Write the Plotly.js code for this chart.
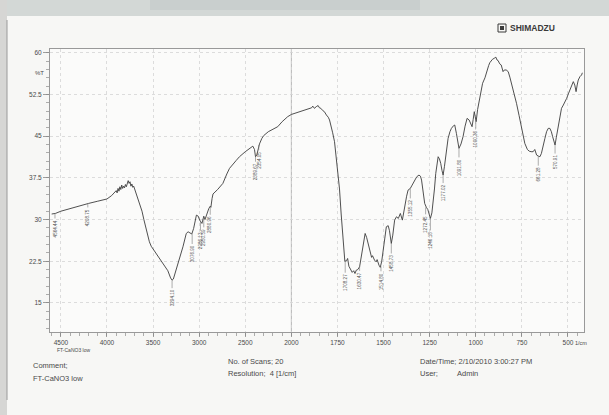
<!DOCTYPE html>
<html>
<head>
<meta charset="utf-8">
<script src="https://cdn.plot.ly/plotly-3.0.1.min.js"></script>
<style>
html,body{margin:0;padding:0;background:#f7f7f5;}
#chart{width:609px;height:415px;}
</style>
</head>
<body>
<div id="chart"></div>
<script>
// ---- Data ----
const wavenumber = [4600,4560,4500,4400,4300,4200,4100,4000,3950,3920,3900,3890,3880,3870,3860,3850,3840,3830,3820,3810,3800,3790,3780,3770,3760,3750,3740,3730,3720,3710,3700,3690,3670,3650,3620,3600,3570,3540,3520,3480,3430,3380,3340,3310,3294,3280,3250,3210,3176,3140,3120,3100,3080,3060,3030,3010,2995,2970,2950,2937,2920,2895,2880,2873,2860,2850,2800,2743,2700,2671,2600,2563,2500,2450,2418,2400,2389,2375,2360,2346,2320,2300,2250,2200,2148,2100,2040,2000,1974,1950,1920,1900,1890,1884,1875,1865,1855,1848,1840,1830,1821,1810,1800,1793,1785,1776,1766,1757,1748,1739,1730,1724,1715,1710,1701,1695,1688,1680,1670,1662,1655,1648,1640,1630,1620,1612,1605,1600,1592,1585,1578,1572,1565,1560,1549,1540,1535,1525,1518,1510,1504,1495,1485,1475,1468,1458,1450,1440,1430,1420,1409,1398,1390,1385,1375,1367,1355,1345,1331,1320,1308,1300,1294,1285,1277,1268,1260,1253,1246,1238,1231,1224,1217,1210,1204,1197,1190,1183,1177,1170,1163,1156,1150,1140,1132,1120,1114,1105,1098,1091,1080,1069,1058,1047,1036,1028,1020,1014,1008,1003,998,990,984,975,963,950,942,930,924,910,900,891,885,879,870,862,852,845,835,824,815,806,790,779,765,752,743,734,720,710,700,689,680,675,670,660,652,644,634,625,616,607,598,590,583,576,570,563,557,550,543,535,525,515,507,498,489,480,471,463,456,450,444,435,426,422];
const transmittance = [31.0,31.1,31.5,32.0,32.5,32.9,33.3,33.7,34.3,34.8,35.2,34.8,35.6,35.1,35.9,35.4,36.2,35.6,36.0,35.7,36.3,35.9,36.6,37.0,36.5,36.8,36.0,36.4,35.8,36.0,35.5,35.0,34.0,33.2,31.5,30.0,27.8,26.0,25.2,24.2,23.0,21.8,20.8,19.5,19.1,19.3,20.9,23.0,25.1,27.5,27.8,27.6,27.4,28.4,30.8,30.6,29.9,29.3,30.6,30.0,31.0,32.0,32.4,32.2,33.8,34.6,35.4,36.5,38.2,39.2,40.6,41.3,42.2,42.8,43.2,42.6,41.3,41.6,42.5,43.6,44.6,45.1,45.8,46.3,46.7,47.6,48.5,48.9,49.2,49.4,49.8,50.0,50.1,50.4,50.0,50.3,50.5,50.1,50.0,49.6,49.4,48.8,48.4,47.9,47.0,45.6,44.0,41.5,39.0,35.5,31.0,28.1,24.0,22.5,22.6,23.0,21.6,21.0,20.5,20.8,20.3,20.9,21.0,21.5,23.4,25.1,26.8,27.5,26.8,25.7,24.6,23.9,23.2,23.5,22.7,22.4,22.8,21.8,21.4,22.5,23.9,26.3,28.7,28.9,28.0,25.7,27.2,29.9,30.5,30.2,31.1,29.9,31.5,32.9,34.2,35.3,35.6,36.2,37.1,37.7,38.0,37.8,37.1,35.0,32.9,32.2,31.8,31.0,30.2,31.2,32.9,35.5,38.3,40.5,41.3,40.9,40.1,38.8,38.0,39.5,41.3,43.2,44.6,45.8,46.4,46.9,47.0,45.5,43.8,42.8,43.6,44.9,46.8,48.2,47.9,47.3,46.7,48.0,49.4,48.5,47.6,49.8,50.9,52.6,54.5,55.5,56.6,57.7,58.2,58.8,59.0,59.2,58.7,58.6,58.0,57.8,56.6,56.9,56.9,56.6,55.6,54.5,52.6,50.9,48.7,46.7,45.0,43.7,42.6,42.3,42.2,42.2,42.6,42.0,41.6,41.4,41.3,41.9,43.1,44.6,45.8,46.4,46.4,45.8,44.9,43.9,43.4,44.8,46.1,47.6,49.1,50.0,50.6,51.2,51.8,52.6,53.3,54.0,54.8,54.2,53.0,54.2,55.1,55.7,56.0,56.4];

const peakWn    = [4564,4208,3294,3076,2986,2950,2880,2389,2354,1708,1630,1514,1458,1355,1272,1246,1177,1091,1000,661,570];
const peakT     = [31.1,32.9,19.1,27.4,29.8,30.4,32.3,41.3,43.4,22.6,21.5,21.6,25.7,35.6,32.2,30.2,38.0,42.8,47.6,41.4,43.4];
const peakLabel = ["4564.44","4208.75","3294.10","3076.90","2986.13","2950.59","2880.96","2389.67","2354.05","1708.27","1630.47","1514.80","1458.73","1355.12","1272.45","1246.18","1177.02","1091.80","1000.36","661.28","570.91"];
const peakOffset = [15,14,18,20,20,20,18,15,15,22,14,15,20,20,17,22,18,19,17,18,17];

const xTickWn = [4500,4000,3500,3000,2500,2000,1750,1500,1250,1000,750,500];
const xTickText = ["4500","4000","3500","3000","2500","2000","1750","1500","1250","1000","750","500"];
const yTickVals = [15,22.5,30,37.5,45,52.5,60];
const yTickText = ["15","22.5","30","37.5","45","52.5","60"];

// Shimadzu chart: scale above 2000 cm-1 is compressed by a factor of 2
function u(w){ return w <= 2000 ? w : 2000 + (w - 2000) / 2; }

// plot area in pixels (for paper-referenced text)
const L = 50, R = 584, T = 49, B = 332;
function px(x){ return (x - L) / (R - L); }
function py(y){ return (B - y) / (B - T); }

const ink = '#4a4a4a';
const fontFam = '"Liberation Sans", Arial, sans-serif';

const trace = {
  x: wavenumber.map(u), y: transmittance, type: 'scatter', mode: 'lines',
  line: {color: '#3c3c3c', width: 0.9}, hoverinfo: 'skip'
};

const annotations = [];
for (let i = 0; i < peakWn.length; i++) {
  annotations.push({
    x: u(peakWn[i]), y: peakT[i], xref: 'x', yref: 'y',
    text: peakLabel[i], textangle: -90, showarrow: true, arrowhead: 0,
    arrowwidth: 0.6, arrowcolor: '#777', ax: 0, ay: peakOffset[i],
    font: {family: fontFam, size: 4.6, color: '#555'}
  });
}
function txt(x, y, s, size, opts) {
  annotations.push(Object.assign({
    x: px(x), y: py(y), xref: 'paper', yref: 'paper', text: s, showarrow: false,
    xanchor: 'left', yanchor: 'middle',
    font: {family: fontFam, size: size, color: ink}
  }, opts || {}));
}
txt(33, 73, '%T', 6);
txt(573, 343, '1/cm', 5.5);
txt(55, 350, 'FT-CaNO3 low', 5);
txt(31, 365, 'Comment;', 7.5);
txt(31, 378, 'FT-CaNO3 low', 7.5);
txt(226, 361, 'No. of Scans; 20', 7.5);
txt(226, 373, 'Resolution;  4 [1/cm]', 7.5);
txt(418, 361, 'Date/Time; 2/10/2010 3:00:27 PM', 7.5);
txt(418, 373, 'User;', 7.5);
txt(455, 373, 'Admin', 7.5);
txt(508, 28, '<b>SHIMADZU</b>', 8.5, {font: {family: fontFam, size: 8.5, color: '#3a3a3a'}});

const shapes = [
  // paper scan artefacts
  {type: 'rect', xref: 'paper', yref: 'paper', x0: px(0), x1: px(609), y0: py(0), y1: py(16), fillcolor: '#d3d8d6', line: {width: 0}, layer: 'below'},
  {type: 'rect', xref: 'paper', yref: 'paper', x0: px(150), x1: px(420), y0: py(0), y1: py(10), fillcolor: '#c5cccb', line: {width: 0}, layer: 'below', opacity: 0.7},
  {type: 'rect', xref: 'paper', yref: 'paper', x0: px(0), x1: px(7), y0: py(0), y1: py(415), fillcolor: '#d6d6d4', line: {width: 0}, layer: 'below'},
  {type: 'line', xref: 'paper', yref: 'paper', x0: px(7), x1: px(7), y0: py(20), y1: py(400), line: {color: '#9a9a9a', width: 1}},
  // logo box
  {type: 'rect', xref: 'paper', yref: 'paper', x0: px(498), x1: px(506), y0: py(32), y1: py(24), line: {color: '#3a3a3a', width: 1}, fillcolor: 'rgba(0,0,0,0)'},
  {type: 'rect', xref: 'paper', yref: 'paper', x0: px(500), x1: px(504), y0: py(30), y1: py(26), line: {width: 0}, fillcolor: '#3a3a3a'},
  // scale-change line at 2000 cm-1
  {type: 'line', xref: 'x', yref: 'paper', x0: u(2000), x1: u(2000), y0: 0, y1: 1, line: {color: '#b5b5b5', width: 1}, layer: 'below'}
];

const layout = {
  width: 609, height: 415,
  margin: {l: L, r: 609 - R, t: T, b: 415 - B},
  paper_bgcolor: '#f7f7f5', plot_bgcolor: '#fbfbfa',
  showlegend: false,
  font: {family: fontFam, color: ink},
  xaxis: {
    range: [u(4618), 413], tickmode: 'array', tickvals: xTickWn.map(u), ticktext: xTickText,
    ticks: 'outside', ticklen: 4, tickcolor: '#888', tickwidth: 0.8,
    tickfont: {family: fontFam, size: 6.5, color: ink},
    showgrid: true, gridcolor: '#d4d4d4', griddash: 'dot', gridwidth: 0.8,
    showline: true, linecolor: '#999', linewidth: 1, mirror: true, zeroline: false,
    minor: {tickmode: 'linear', tick0: 500, dtick: 50, ticks: 'outside', ticklen: 2.5, tickcolor: '#999', showgrid: false}
  },
  yaxis: {
    range: [9.78, 60.67], tickmode: 'array', tickvals: yTickVals, ticktext: yTickText,
    ticks: 'outside', ticklen: 6, tickcolor: '#888', tickwidth: 0.8,
    tickfont: {family: fontFam, size: 6.5, color: ink},
    showgrid: true, gridcolor: '#d4d4d4', griddash: 'dot', gridwidth: 0.8,
    showline: true, linecolor: '#999', linewidth: 1, mirror: true, zeroline: false,
    minor: {tickmode: 'linear', tick0: 15, dtick: 1.5, ticks: 'outside', ticklen: 3, tickcolor: '#999', showgrid: false}
  },
  annotations: annotations,
  shapes: shapes
};

Plotly.newPlot('chart', [trace], layout, {displayModeBar: false, staticPlot: true});
</script>
</body>
</html>
